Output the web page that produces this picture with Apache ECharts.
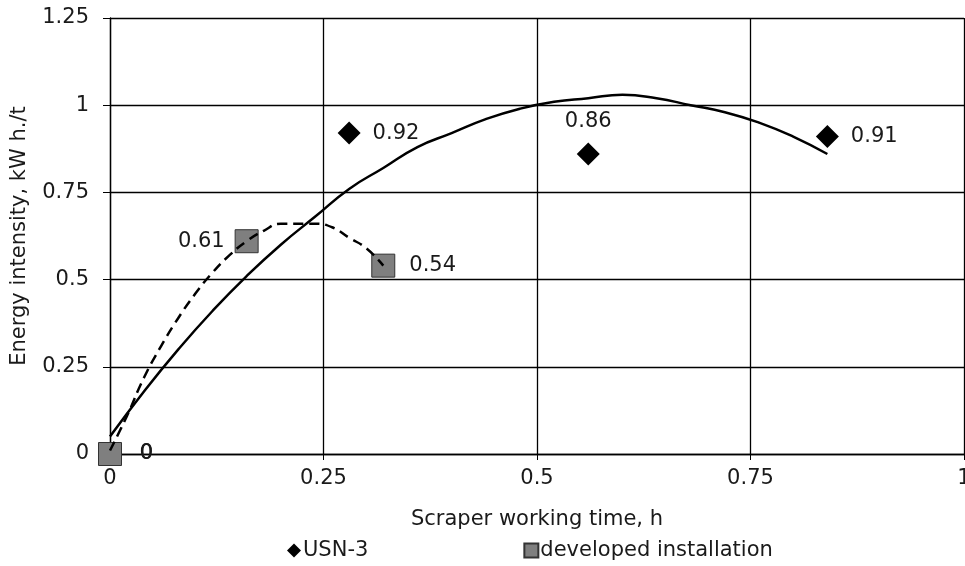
<!DOCTYPE html>
<html>
<head>
<meta charset="utf-8">
<script src="https://cdn.jsdelivr.net/npm/echarts@6/dist/echarts.min.js"></script>
<style>html,body{margin:0;padding:0;background:#fff;}#c{width:965px;height:566px;}</style>
</head>
<body>
<div id="c"></div>
<script>
// Data
const usnX = [0, 0.28, 0.56, 0.84];
const usnY = [0, 0.92, 0.86, 0.91];
const devX = [0, 0.16, 0.32];
const devY = [0, 0.61, 0.54];
const usnTrendX = [0, 0.04, 0.08, 0.12, 0.16, 0.20, 0.24, 0.28, 0.32, 0.36, 0.40, 0.44, 0.48, 0.52, 0.56, 0.60, 0.64, 0.68, 0.72, 0.76, 0.80, 0.84];
const usnTrendY = [0.05, 0.18, 0.30, 0.41, 0.51, 0.60, 0.68, 0.76, 0.82, 0.88, 0.92, 0.96, 0.99, 1.01, 1.02, 1.03, 1.02, 1.00, 0.98, 0.95, 0.91, 0.86];
const devTrendX = [0, 0.02, 0.04, 0.06, 0.08, 0.10, 0.12, 0.14, 0.16, 0.18, 0.20, 0.22, 0.24, 0.26, 0.28, 0.30, 0.32];
const devTrendY = [0.01, 0.11, 0.22, 0.31, 0.39, 0.46, 0.52, 0.57, 0.61, 0.64, 0.66, 0.66, 0.66, 0.65, 0.62, 0.59, 0.54];
const xTicks = ['0', '0.25', '0.5', '0.75', '1'];
const yTicks = ['0', '0.25', '0.5', '0.75', '1', '1.25'];
const seriesNames = ['USN-3', 'developed installation'];
const axisTitles = ['Scraper working time, h', 'Energy intensity, kW h./t'];

// label placement (style)
const usnLabelPos = ['right', 'right', 'top', 'right'];
const devLabelPos = ['right', 'left', 'right'];
const devLabelDist = [18, 10, 14];
const usnLabelDist = [18, 12, 10, 12];

const FONT = 'DejaVu Sans';
const FS = 21;
const TXT = '#1a1a1a';
const zip = (xs, ys) => xs.map((x, i) => [x, ys[i]]);

const chart = echarts.init(document.getElementById('c'), null, {renderer: 'canvas'});
chart.setOption({
  animation: false,
  backgroundColor: '#fff',
  textStyle: {fontFamily: FONT, color: TXT},
  grid: {left: 110, right: 1, top: 18, bottom: 112, containLabel: false, outerBoundsMode: 'none'},
  xAxis: {
    type: 'value', min: 0, max: 1, interval: 0.25,
    name: axisTitles[0], nameLocation: 'middle', nameGap: 55,
    nameTextStyle: {fontFamily: FONT, fontSize: FS, color: TXT},
    axisLine: {show: true, onZero: false, lineStyle: {color: '#000', width: 1.3}},
    axisTick: {show: true, length: 6, lineStyle: {color: '#000'}},
    axisLabel: {fontFamily: FONT, fontSize: FS, color: TXT, margin: 14,
      formatter: (v) => xTicks[Math.round(v / 0.25)]},
    splitLine: {show: true, lineStyle: {color: '#000', width: 1.3}}
  },
  yAxis: {
    type: 'value', min: 0, max: 1.25, interval: 0.25,
    name: axisTitles[1], nameLocation: 'middle', nameGap: 80, nameRotate: 90,
    nameTextStyle: {fontFamily: FONT, fontSize: FS, color: TXT},
    axisLine: {show: true, onZero: false, lineStyle: {color: '#000', width: 1.3}},
    axisTick: {show: true, length: 7, lineStyle: {color: '#000'}},
    axisLabel: {fontFamily: FONT, fontSize: FS, color: TXT, margin: 21,
      formatter: (v) => yTicks[Math.round(v / 0.25)]},
    splitLine: {show: true, lineStyle: {color: '#000', width: 1.3}}
  },
  legend: {
    data: [
      {name: seriesNames[0], icon: 'diamond'},
      {name: seriesNames[1], icon: 'rect'}
    ],
    bottom: 0, left: 282, itemGap: 155, itemWidth: 14, itemHeight: 14,
    textStyle: {fontFamily: FONT, fontSize: FS, color: TXT, padding: [0, 0, 0, -3]}
  },
  series: [
    {
      name: seriesNames[0], type: 'scatter', symbol: 'diamond', symbolSize: 23, z: 3,
      itemStyle: {color: '#000', opacity: 1},
      data: zip(usnX, usnY).map((p, i) => ({
        value: p,
        label: {show: true, position: usnLabelPos[i], distance: usnLabelDist[i],
          fontFamily: FONT, fontSize: FS, color: TXT, opacity: 1,
          formatter: (q) => String(q.value[1])}
      }))
    },
    {
      name: seriesNames[1], type: 'scatter', symbol: 'rect', symbolSize: 23, z: 4,
      itemStyle: {color: '#7f7f7f', borderColor: '#333', borderWidth: 1, opacity: 1},
      data: zip(devX, devY).map((p, i) => ({
        value: p,
        label: {show: true, position: devLabelPos[i], distance: devLabelDist[i],
          fontFamily: FONT, fontSize: FS, color: TXT, opacity: 1,
          formatter: (q) => String(q.value[1])}
      }))
    },
    {
      name: 'usnTrend', type: 'line', smooth: true, showSymbol: false, symbol: 'none', z: 6,
      lineStyle: {color: '#000', width: 2.5}, silent: true,
      data: zip(usnTrendX, usnTrendY)
    },
    {
      name: 'devTrend', type: 'line', smooth: true, showSymbol: false, symbol: 'none', z: 6,
      lineStyle: {color: '#000', width: 2.5, type: [10, 6]}, silent: true,
      data: zip(devTrendX, devTrendY)
    }
  ]
});
</script>
</body>
</html>
